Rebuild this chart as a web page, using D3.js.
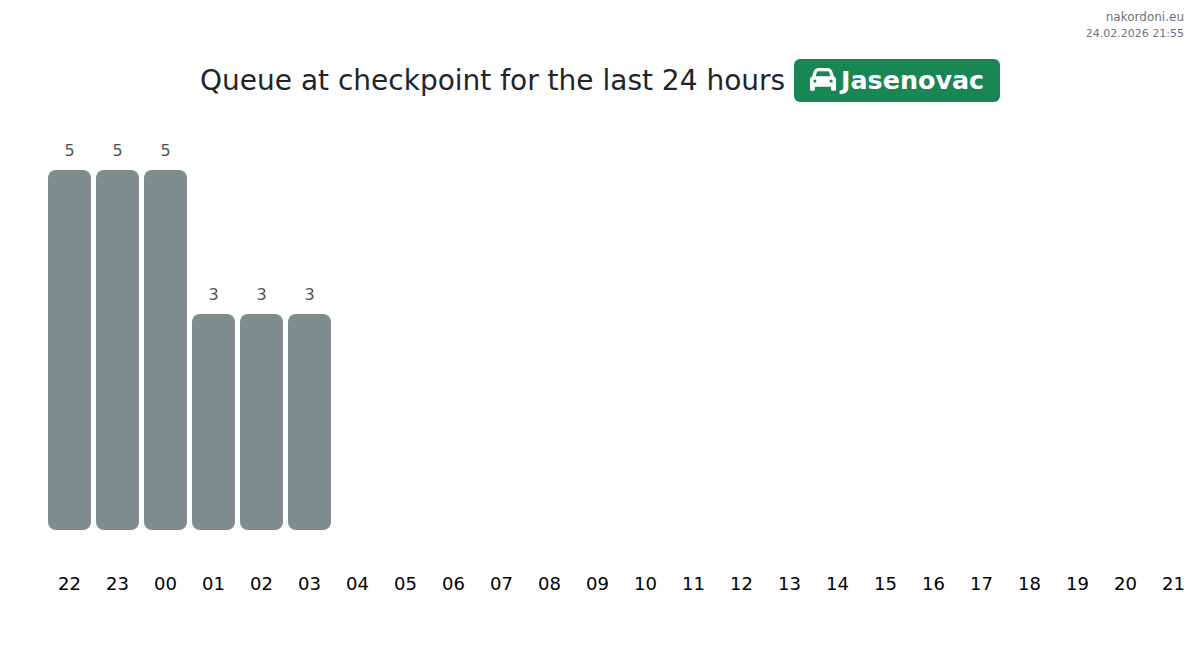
<!DOCTYPE html>
<html>
<head>
<meta charset="utf-8">
<script src="https://cdn.jsdelivr.net/npm/d3@7"></script>
<style>
  html, body { margin: 0; background: #fff; }
  svg { display: block; font-family: "DejaVu Sans", sans-serif; }
</style>
</head>
<body>
<script>
const hours = ['22','23','00','01','02','03','04','05','06','07','08','09','10','11','12','13','14','15','16','17','18','19','20','21']
const queue = [5, 5, 5, 3, 3, 3]
const titleText = 'Queue at checkpoint for the last 24 hours'
const placeName = 'Jasenovac'
const siteName = 'nakordoni.eu'
const stamp = '24.02.2026 21:55'
const carIcon = 'M135.2 117.4L109.1 192H402.9l-26.1-74.6C372.3 104.6 360.2 96 346.6 96H165.4c-13.6 0-25.7 8.6-30.2 21.4zM39.6 196.8L74.8 96.3C88.3 57.8 124.6 32 165.4 32H346.6c40.8 0 77.1 25.8 90.6 64.3l35.2 100.5c23.2 9.6 39.6 32.5 39.6 59.2V400v48c0 17.7-14.3 32-32 32H448c-17.7 0-32-14.3-32-32V400H96v48c0 17.7-14.3 32-32 32H32c-17.7 0-32-14.3-32-32V400 256c0-26.7 16.4-49.6 39.6-59.2zM128 288a32 32 0 1 0 -64 0 32 32 0 1 0 64 0zm288 32a32 32 0 1 0 0-64 32 32 0 1 0 0 64z'

const m = { width: 1200, height: 651 }

const svg = d3.select('body').append('svg')
    .attr('width', m.width)
    .attr('height', m.height)

svg.append('rect')
    .attr('width', m.width)
    .attr('height', m.height)
    .attr('fill', '#fff')

const x = d3.scaleBand()
    .domain(hours)
    .range([48, 1195])
    .paddingInner(5 / 48)

const y = d3.scaleLinear()
    .domain([0, 5])
    .range([530, 170])

// bars only exist for the hours that have data
const rows = queue.map((v, i) => ({ hour: hours[i], value: v }))

svg.selectAll('.bar')
    .data(rows)
    .enter()
    .append('rect')
        .attr('class', 'bar')
        .attr('x', d => x(d.hour))
        .attr('y', d => y(d.value))
        .attr('width', x.bandwidth())
        .attr('height', d => y(0) - y(d.value))
        .attr('rx', 8)
        .attr('fill', '#7f8c8d')

svg.selectAll('.value')
    .data(rows)
    .enter()
    .append('text')
        .attr('class', 'value')
        .attr('x', d => x(d.hour) + x.bandwidth() / 2)
        .attr('y', d => y(d.value) - 14)
        .attr('text-anchor', 'middle')
        .attr('font-size', 16)
        .attr('fill', '#555')
        .text(d => d.value)

// hour labels, domain line and ticks are not shown in the chart
const xAxis = svg.append('g')
    .attr('transform', 'translate(0,530)')
    .call(d3.axisBottom(x).tickSize(0).tickPadding(47))

xAxis.select('.domain').remove()
xAxis.selectAll('text')
    .attr('font-family', '"DejaVu Sans", sans-serif')
    .attr('font-size', 18)
    .attr('fill', '#000')

svg.append('text')
    .attr('x', 200)
    .attr('y', 90)
    .attr('font-size', 28)
    .attr('fill', '#212529')
    .text(titleText)

svg.append('rect')
    .attr('x', 794)
    .attr('y', 59)
    .attr('width', 206)
    .attr('height', 43)
    .attr('rx', 6)
    .attr('fill', '#198754')

svg.append('path')
    .attr('d', carIcon)
    .attr('transform', 'translate(810,66.4) scale(0.0508)')
    .attr('fill', '#fff')

svg.append('text')
    .attr('x', 841)
    .attr('y', 89)
    .attr('font-size', 25.4)
    .attr('font-weight', 700)
    .attr('fill', '#fff')
    .text(placeName)

svg.append('text')
    .attr('x', 1184)
    .attr('y', 21)
    .attr('text-anchor', 'end')
    .attr('font-size', 12)
    .attr('fill', '#6c757d')
    .text(siteName)

svg.append('text')
    .attr('x', 1184)
    .attr('y', 37)
    .attr('text-anchor', 'end')
    .attr('font-size', 11)
    .attr('fill', '#6c757d')
    .text(stamp)
</script>
</body>
</html>
